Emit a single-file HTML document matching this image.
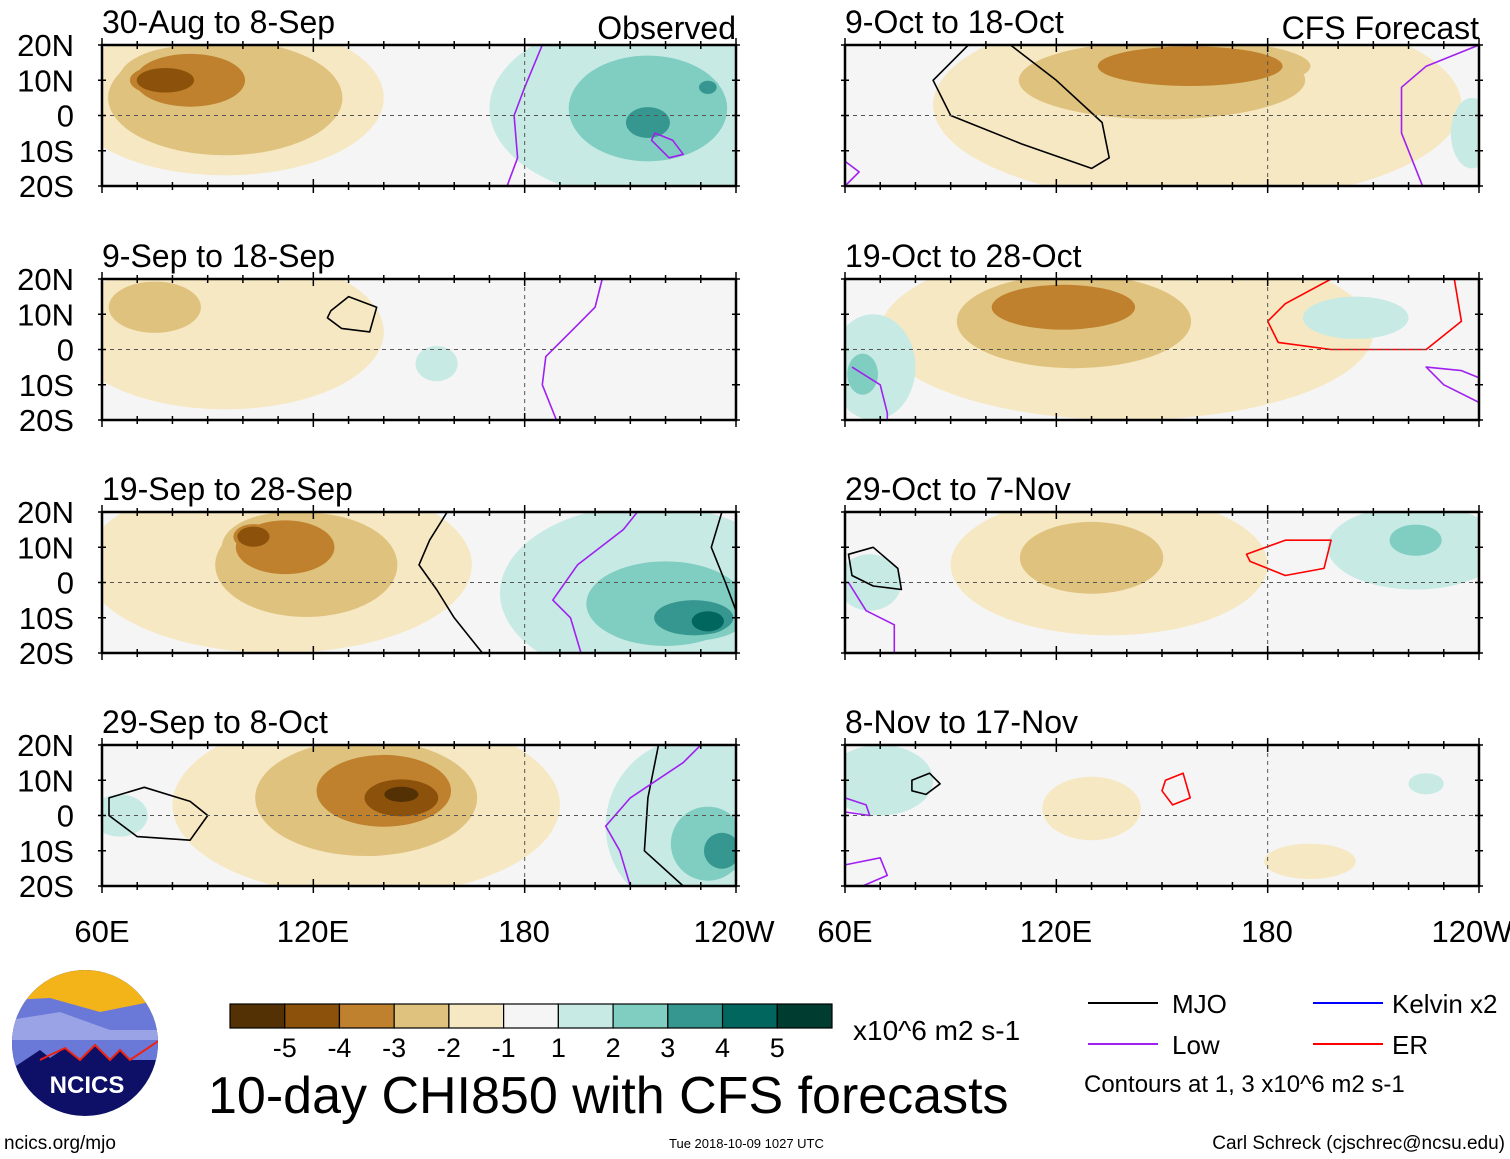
<!DOCTYPE html>
<html><head><meta charset="utf-8"><style>
body{margin:0;background:#fff}
svg{display:block;font-family:"Liberation Sans",sans-serif}
</style></head><body>
<svg id="chart" width="1510" height="1159" viewBox="0 0 1510 1159" xmlns="http://www.w3.org/2000/svg">
<g id="panels"></g>
<g font-size="31" fill="#000">
<text x="102" y="942" text-anchor="middle">60E</text>
<text x="313" y="942" text-anchor="middle">120E</text>
<text x="524" y="942" text-anchor="middle">180</text>
<text x="734" y="942" text-anchor="middle">120W</text>
<text x="845" y="942" text-anchor="middle">60E</text>
<text x="1056" y="942" text-anchor="middle">120E</text>
<text x="1267" y="942" text-anchor="middle">180</text>
<text x="1472" y="942" text-anchor="middle">120W</text>
</g>
<g>
<clipPath id="lc"><circle cx="85" cy="1043" r="73"/></clipPath>
<g clip-path="url(#lc)">
<rect x="10" y="968" width="150" height="150" fill="#0d1066"/>
<rect x="10" y="968" width="150" height="45" fill="#f3b41a"/>
<path d="M10 1000 L50 998 L100 1012 L160 1000 L160 1060 L130 1060 L120 1050 L110 1060 L95 1045 L80 1060 L65 1048 L50 1058 L40 1050 L10 1070Z" fill="#6a78d8"/>
<path d="M10 1020 L60 1012 L110 1030 L160 1030 L160 1040 L10 1040Z" fill="#9aa3e6"/>
<path d="M40 1060 L50 1055 L65 1048 L80 1060 L95 1045 L110 1060 L120 1050 L130 1060 L160 1040" fill="none" stroke="#e21" stroke-width="2"/>
</g>
<text x="87" y="1093" font-size="24" font-weight="bold" fill="#fff" text-anchor="middle">NCICS</text>
</g>
<text x="4" y="1149" font-size="19">ncics.org/mjo</text>
<g id="cbar"></g>
<text x="853" y="1040" font-size="28">x10^6 m2 s-1</text>
<text x="208" y="1113" font-size="52">10-day CHI850 with CFS forecasts</text>
<text x="669" y="1148" font-size="13">Tue 2018-10-09 1027 UTC</text>
<text x="1505" y="1149" font-size="19" text-anchor="end">Carl Schreck (cjschrec@ncsu.edu)</text>
<g font-size="26">
<line x1="1088" y1="1003" x2="1158" y2="1003" stroke="#000" stroke-width="2"/><text x="1172" y="1013">MJO</text>
<line x1="1088" y1="1044" x2="1158" y2="1044" stroke="#a020f0" stroke-width="2"/><text x="1172" y="1054">Low</text>
<line x1="1313" y1="1003" x2="1383" y2="1003" stroke="#00f" stroke-width="2"/><text x="1392" y="1013">Kelvin x2</text>
<line x1="1313" y1="1044" x2="1383" y2="1044" stroke="#f00" stroke-width="2"/><text x="1392" y="1054">ER</text>
<text x="1084" y="1092" font-size="24">Contours at 1, 3 x10^6 m2 s-1</text>
</g>
</svg>
<script>
// ---- data ----
const cbarValues=[-5,-4,-3,-2,-1,1,2,3,4,5];
const cbarColors=["#543005","#8c510a","#bf812d","#dfc27d","#f6e8c3","#f5f5f5","#c7eae5","#80cdc1","#35978f","#01665e","#003c30"];
const panelTitles=["30-Aug to 8-Sep","9-Sep to 18-Sep","19-Sep to 28-Sep","29-Sep to 8-Oct","9-Oct to 18-Oct","19-Oct to 28-Oct","29-Oct to 7-Nov","8-Nov to 17-Nov"];
const latTicks=["20N","10N","0","10S","20S"];
// blobs: [lon, lat, lonRadius, latRadius, peakValue]
const blobs0=[[95,5,45,22,-2.3],[85,10,25,12,-3.2],[78,10,14,6,-4.3],[215,2,45,26,1.5],[215,2,30,20,2.4],[215,-2,10,7,3.2],[232,8,4,3,3.2]];
const blobs1=[[95,5,45,22,-1.4],[75,12,18,10,-2.2],[155,-4,6,5,1.5]];
const blobs2=[[110,5,55,25,-1.5],[118,5,35,20,-2.3],[112,10,22,12,-3.3],[103,13,8,5,-4.2],[215,-3,42,25,1.5],[220,-6,30,16,2.4],[228,-10,18,8,3.2],[232,-11,8,5,4.2]];
const blobs3=[[135,3,55,26,-1.4],[135,5,42,22,-2.4],[140,7,30,16,-3.3],[145,5,18,9,-4.3],[145,6,9,4,-5.2],[228,-3,25,25,1.6],[232,-8,14,14,2.4],[236,-10,8,8,3.3],[65,0,8,6,1.3]];
const blobs4=[[160,3,75,28,-1.4],[150,10,55,15,-2.3],[158,14,42,9,-3.2],[238,-5,6,10,1.3]];
const blobs5=[[140,5,70,25,-1.4],[125,8,45,18,-2.3],[122,12,32,10,-3.3],[68,-5,12,15,1.5],[205,9,15,6,1.5],[65,-7,6,8,2.2]];
const blobs6=[[135,5,45,20,-1.4],[130,7,28,14,-2.2],[222,10,25,12,1.5],[222,12,10,6,2.3],[67,0,9,8,1.3]];
const blobs7=[[130,2,14,9,-1.3],[192,-13,13,5,-1.3],[70,10,15,10,1.3],[225,9,5,3,1.2]];
const panelBlobs=[blobs0,blobs1,blobs2,blobs3,blobs4,blobs5,blobs6,blobs7];
// contour lines: [type, [[lon,lat],...], closed]
const lines0=[["low",[[175,-20],[178,-12],[177,0],[180,8],[185,20]],0],["low",[[217,-5],[222,-7],[225,-11],[221,-12],[216,-7]],1]];
const lines1=[["mjo",[[125,11],[130,15],[138,12],[136,5],[128,6],[124,9]],1],["low",[[189,-20],[185,-10],[186,-2],[194,6],[200,12],[202,20]],0]];
const lines2=[["mjo",[[168,-20],[160,-10],[155,-2],[150,5],[153,12],[158,20]],0],["mjo",[[236,20],[233,10],[237,0],[240,-8]],0],["low",[[196,-20],[193,-10],[188,-5],[195,5],[208,15],[212,20]],0]];
const lines3=[["mjo",[[62,5],[72,8],[85,4],[90,0],[85,-7],[70,-6],[62,0]],1],["mjo",[[218,20],[215,5],[214,-10],[225,-20]],0],["low",[[210,-20],[207,-10],[203,-3],[210,5],[225,15],[230,20]],0]];
const lines4=[["mjo",[[95,20],[85,10],[90,0],[110,-8],[130,-15],[135,-12],[133,-2],[120,10],[107,20]],0],["low",[[60,-13],[64,-16],[60,-20]],0],["low",[[240,20],[225,14],[218,8],[218,-5],[224,-20]],0]];
const lines5=[["er",[[180,8],[185,13],[198,20],[233,20],[235,8],[225,0],[198,0],[183,2]],1],["low",[[62,-5],[70,-10],[72,-18],[72,-20]],0],["low",[[240,-15],[230,-10],[225,-5],[235,-6],[240,-8]],0]];
const lines6=[["mjo",[[61,8],[68,10],[75,4],[76,-2],[68,-1],[62,2]],1],["er",[[174,8],[185,12],[198,12],[196,4],[185,2],[175,6]],1],["low",[[61,0],[66,-8],[74,-12],[74,-20]],0]];
const lines7=[["mjo",[[79,10],[84,12],[87,9],[83,6],[79,7]],1],["er",[[151,10],[156,12],[158,5],[153,3],[150,7]],1],["low",[[60,5],[66,3],[67,0],[60,1]],0],["low",[[60,-14],[70,-12],[72,-17],[65,-20]],0]];
const panelLines=[lines0,lines1,lines2,lines3,lines4,lines5,lines6,lines7];

// ---- drawing ----
const NS="http://www.w3.org/2000/svg";
function mk(t,a,p){const e=document.createElementNS(NS,t);for(const k in a)e.setAttribute(k,a[k]);p.appendChild(e);return e;}
const PW=634,PH=141;
const panelPos=[[102,45],[102,279],[102,512],[102,745],[845,45],[845,279],[845,512],[845,745]];
const lineCol={mjo:"#000",low:"#a020f0",er:"#f00"};
function levelColor(L,neg){return neg?cbarColors[5-L]:cbarColors[5+L];}
const root=document.getElementById("panels");
panelPos.forEach((pp,i)=>{
  const x0=pp[0],y0=pp[1];
  const X=lon=>x0+(lon-60)*PW/180, Y=lat=>y0+(20-lat)*PH/40;
  const g=mk("g",{},root);
  
  
  const cp=mk("clipPath",{id:"cp"+i},g);
  mk("rect",{x:x0,y:y0,width:PW,height:PH},cp);
  mk("rect",{x:x0,y:y0,width:PW,height:PH,fill:"#f5f5f5"},g);
  const fg=mk("g",{"clip-path":"url(#cp"+i+")"},g);
  const bl=panelBlobs[i];
  for(let L=1;L<=5;L++){
    bl.forEach(b=>{
      const a=Math.abs(b[4]);if(a<L)return;
      const s=1-(L-1)/a*0.6;
      const el=mk("ellipse",{cx:X(b[0]),cy:Y(b[1]),rx:b[2]*s*PW/180,ry:b[3]*s*PH/40,fill:levelColor(L,b[4]<0)},fg);
      
      
    });
  }
  mk("line",{x1:x0,x2:x0+PW,y1:Y(0),y2:Y(0),stroke:"#555","stroke-dasharray":"4,4","stroke-width":1},g);
  mk("line",{x1:X(180),x2:X(180),y1:y0,y2:y0+PH,stroke:"#555","stroke-dasharray":"4,4","stroke-width":1},g);
  panelLines[i].forEach(l=>{
    const d=l[1].map((p,k)=>(k?"L":"M")+X(p[0]).toFixed(1)+" "+Y(p[1]).toFixed(1)).join(" ")+(l[2]?"Z":"");
    const el=mk("path",{d:d,fill:"none",stroke:lineCol[l[0]],"stroke-width":1.6,"stroke-linejoin":"round"},fg);
    
    
  });
  mk("rect",{x:x0,y:y0,width:PW,height:PH,fill:"none",stroke:"#000","stroke-width":2.5},g);
  for(let lon=60;lon<=240;lon+=10){const tl=(lon%60==0)?7:4;
    mk("line",{x1:X(lon),x2:X(lon),y1:y0-tl,y2:y0+tl,stroke:"#000","stroke-width":1.5},g);
    mk("line",{x1:X(lon),x2:X(lon),y1:y0+PH-tl,y2:y0+PH+tl,stroke:"#000","stroke-width":1.5},g);}
  for(let lat=-20;lat<=20;lat+=10){
    mk("line",{x1:x0-4,x2:x0+4,y1:Y(lat),y2:Y(lat),stroke:"#000","stroke-width":1.5},g);
    mk("line",{x1:x0+PW-4,x2:x0+PW+4,y1:Y(lat),y2:Y(lat),stroke:"#000","stroke-width":1.5},g);}
  const t=mk("text",{x:x0,y:y0-12,"font-size":32},g);t.textContent=panelTitles[i];
  
  
  if(i<4){latTicks.forEach((lb,k)=>{const tt=mk("text",{x:74,y:y0+k*PH/4+11,"font-size":31,"text-anchor":"end"},g);tt.textContent=lb;
    
    });}
  if(i==0){const o=mk("text",{x:x0+PW,y:y0-6,"font-size":32,"text-anchor":"end"},g);o.textContent="Observed";
    }
  if(i==4){const o=mk("text",{x:x0+PW,y:y0-6,"font-size":32,"text-anchor":"end"},g);o.textContent="CFS Forecast";
    }
});
const cb=document.getElementById("cbar");
const bx=230,bw=602/11;
cbarColors.forEach((c,k)=>{
  const r=mk("rect",{x:bx+k*bw,y:1004,width:bw,height:24,fill:c,stroke:"#000","stroke-width":1.2},cb);
  
  
});
cbarValues.forEach((v,k)=>{
  const t=mk("text",{x:bx+(k+1)*bw,y:1057,"font-size":27,"text-anchor":"middle"},cb);t.textContent=v;
  
  
});
</script>
</body></html>
